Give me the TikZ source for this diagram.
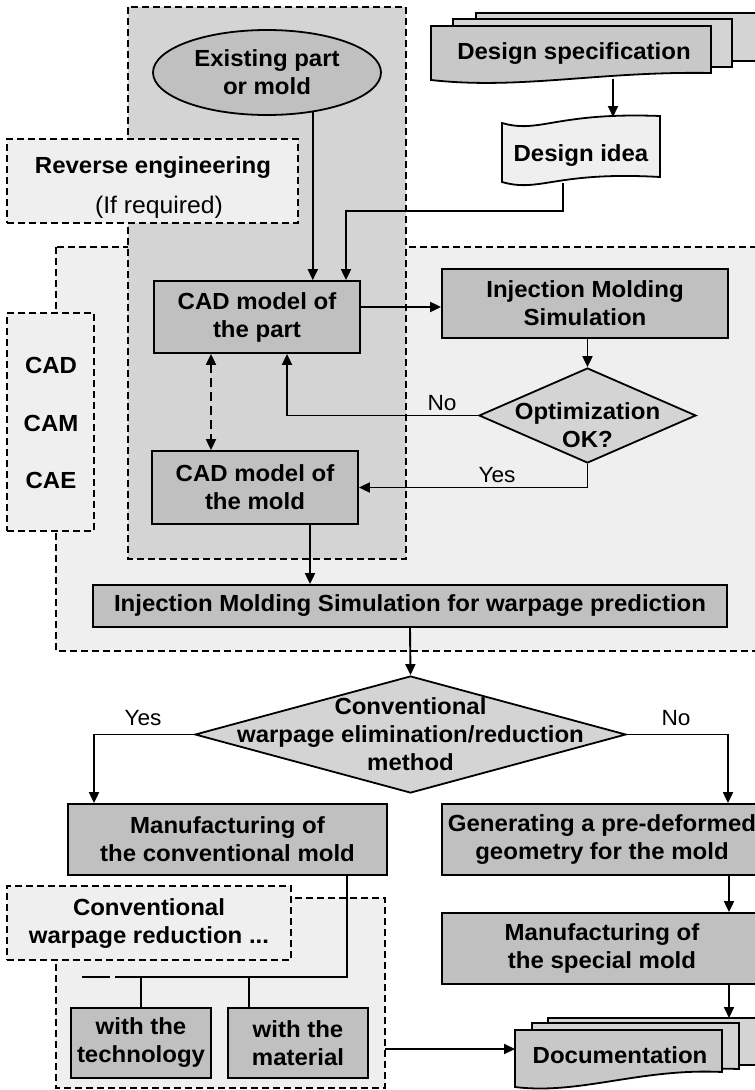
\documentclass[tikz,border=0pt]{standalone}
\usepackage{fontspec}
\setmainfont{Liberation Sans}[FakeStretch=1.03]
\usetikzlibrary{arrows.meta,shapes.geometric}
\definecolor{regdark}{HTML}{D4D4D4}
\definecolor{reglight}{HTML}{EFEFEF}
\definecolor{boxgray}{HTML}{C0C0C0}
\definecolor{diagray}{HTML}{D4D4D4}
\definecolor{docfront}{HTML}{C8C8C8}
\definecolor{docback}{HTML}{D4D4D4}
\newcommand\mybold{\fontsize{23.3}{28}\selectfont\bfseries}
\newcommand\myreg{\fontsize{22}{26}\selectfont}
\newcommand\myregL{\fontsize{24}{28}\selectfont}
\tikzset{
  region/.style={draw, line width=1.9pt, dash pattern=on 7pt off 4pt, inner sep=0pt},
  pbox/.style={draw, fill=boxgray, line width=1.8pt, inner sep=0pt, align=center, font=\mybold},
  dia/.style={draw, diamond, fill=diagray, line width=1.8pt, inner sep=0pt},
  conn/.style={line width=1.9pt},
  arr/.style={conn, -{Triangle[length=11pt,width=10pt]}},
  darr/.style={conn, dash pattern=on 9pt off 5pt, {Triangle[length=11pt,width=10pt]}-{Triangle[length=11pt,width=10pt]}},
  lab/.style={font=\myreg, inner sep=0pt},
  btxt/.style={font=\mybold, align=center, inner sep=0pt},
  docshape/.style={draw, line width=1.8pt},
}
\begin{document}
\begin{tikzpicture}[x=1pt,y=-1pt]
\useasboundingbox (0,0) rectangle (755,1090);

% ---- regions ----
\path[region, fill=reglight] (56,247) rectangle (800,651);
\node[region, fill=reglight, minimum width=87pt, minimum height=218pt] (cbox) at (50.5,422) {};
\node[font=\mybold, inner sep=0pt] (tcad) at (51,365) {CAD};
\node[font=\mybold, inner sep=0pt] (tcam) at (51,423) {CAM};
\node[font=\mybold, inner sep=0pt] (tcae) at (51,480) {CAE};
\path[region, fill=regdark] (128,7) rectangle (406,559);
\node[region, fill=reglight, minimum width=291pt, minimum height=84pt] (rev) at (152.5,181) {};
\node[btxt, anchor=base] (revt) at (153,173) {Reverse engineering};
\node[font=\myregL, inner sep=0pt, anchor=base] (revt2) at (159,213) {(If required)};

\path[region, fill=reglight] (56,898) rectangle (385,1088);
\coordinate (r3e) at (385,1049);
\node[region, fill=reglight, minimum width=284pt, minimum height=74pt] (convb) at (149,923) {};
\node[btxt] (convt) at (149,924) {Conventional\\warpage reduction ...};

% ---- documents: design specification ----
\path[docshape, fill=docback] (476,13) -- (800,13) -- (800,61) -- (700,61) -- (600,64) -- (476,66) -- cycle;
\path[docshape, fill=docback] (453,19) -- (732,19) -- (732,67) .. controls (640,66) and (560,78) .. (453,74) -- cycle;
\path[docshape, fill=docfront] (431,26) -- (711,26) -- (711,73) .. controls (600,71) and (520,90) .. (431,80) -- cycle;
\node[btxt, anchor=base] (spec) at (574,59) {Design specification};
\coordinate (specb) at (613,79);

% ---- design idea (tape) ----
\path[docshape, fill=reglight] (502,123) .. controls (540,134) and (555,112) .. (660,116)
  -- (660,177) .. controls (555,171) and (540,193) .. (502,182) -- cycle;
\node[btxt, anchor=base] (idea) at (581,161) {Design idea};
\coordinate (ideat) at (613,117);
\coordinate (ideab) at (563,183);

% ---- documents: documentation ----
\path[docshape, fill=docback] (548,1018) -- (800,1018) -- (800,1065) -- (548,1065) -- cycle;
\path[docshape, fill=docback] (532,1023) -- (739,1023) -- (739,1069) .. controls (650,1066) and (600,1080) .. (532,1078) -- cycle;
\path[docshape, fill=docfront] (515,1030) -- (722,1030) -- (722,1072) .. controls (640,1068) and (580,1095) .. (515,1087) -- cycle;
\node[btxt] (doct) at (620,1055) {Documentation};
\coordinate (doctop) at (729,1018);
\coordinate (docw) at (515,1049);

% ---- process nodes ----
\node[draw, ellipse, fill=boxgray, line width=1.8pt, minimum width=228pt, minimum height=85pt, inner sep=0pt, btxt] (exist) at (267,72.5) {Existing part\\or mold};
\node[pbox, minimum width=206pt, minimum height=72pt] (cadpart) at (257,317) {CAD model of\\the part};
\node[pbox, minimum width=206pt, minimum height=73pt] (cadmold) at (255,487.5) {CAD model of\\the mold};
\node[pbox, minimum width=286pt, minimum height=69pt] (ims) at (585,303.5) {Injection Molding\\Simulation};
\node[dia, minimum width=217pt, minimum height=95pt] (d1) at (587.5,415.5) {};
\node[btxt] (d1t) at ([yshift=-10pt]d1.center) {Optimization\\OK?};
\node[pbox, minimum width=634pt, minimum height=42pt] (imsw) at (410,606) {Injection Molding Simulation for warpage prediction};
\node[dia, minimum width=431pt, minimum height=117pt] (d2) at (410.5,734.5) {};
\node[btxt] (d2t) at (d2.center) {Conventional\\warpage elimination/reduction\\method};
\node[pbox, minimum width=319pt, minimum height=71pt] (mc) at (227.5,839.5) {Manufacturing of\\the conventional mold};
\node[pbox, minimum width=320pt, minimum height=71pt] (gen) at (602,839.5) {Generating a pre-deformed\\geometry for the mold};
\node[pbox, minimum width=320pt, minimum height=71pt] (special) at (602,948.5) {Manufacturing of\\the special mold};
\node[pbox, minimum width=140pt, minimum height=70pt] (tech) at (141,1043) {with the\\technology};
\node[pbox, minimum width=140pt, minimum height=70pt] (mat) at (298,1043) {with the\\material};

% ---- connectors ----
\draw[arr] (specb) -- (ideat);
\draw[arr] (exist.-41.7) -- (exist.-41.7 |- cadpart.north);
\draw[arr] (ideab) -- ++(0,28) -| ([xshift=89pt]cadpart.north);
\draw[arr] ([yshift=10pt]cadpart.east) coordinate (a1) -- (a1 -| ims.west);
\draw[arr] (d1.north |- ims.south) -- (d1.north);
\draw[arr] (d1.west) -| ([xshift=30pt]cadpart.south);
\node[lab] (no1) at (442,403) {No};
\draw[arr] (d1.south) |- (cadmold.east);
\node[lab] (yes1) at (497,475) {Yes};
\draw[darr] ([xshift=-46pt]cadpart.south) -- ([xshift=-46pt]cadpart.south |- cadmold.north);
\draw[arr] ([xshift=55pt]cadmold.south) coordinate (a2) -- (a2 |- imsw.north);
\draw[arr] (imsw.south) -- (d2.north);
\draw[arr] (d2.west) -| ([xshift=-133.5pt]mc.north);
\node[lab] (yes2) at (143,718) {Yes};
\draw[arr] (d2.east) -| ([xshift=126pt]gen.north);
\node[lab] (no2) at (676,718) {No};
\draw[arr] ([xshift=127pt]gen.south) -- ([xshift=127pt]special.north);
\draw[arr] ([xshift=127pt]special.south) -- (doctop);
\coordinate (jn) at ([yshift=30pt]tech.north);
\draw[conn] ([xshift=119.5pt]mc.south) |- (jn);
\draw[conn] (jn) -- (tech.north);
\draw[conn] ([xshift=-49pt]mat.north) -- ++(0,-30);
\draw[conn, dash pattern=on 28pt off 5pt] ([xshift=-59pt]jn) -- (jn);
\draw[arr] (r3e) -- (docw);
\end{tikzpicture}
\end{document}
